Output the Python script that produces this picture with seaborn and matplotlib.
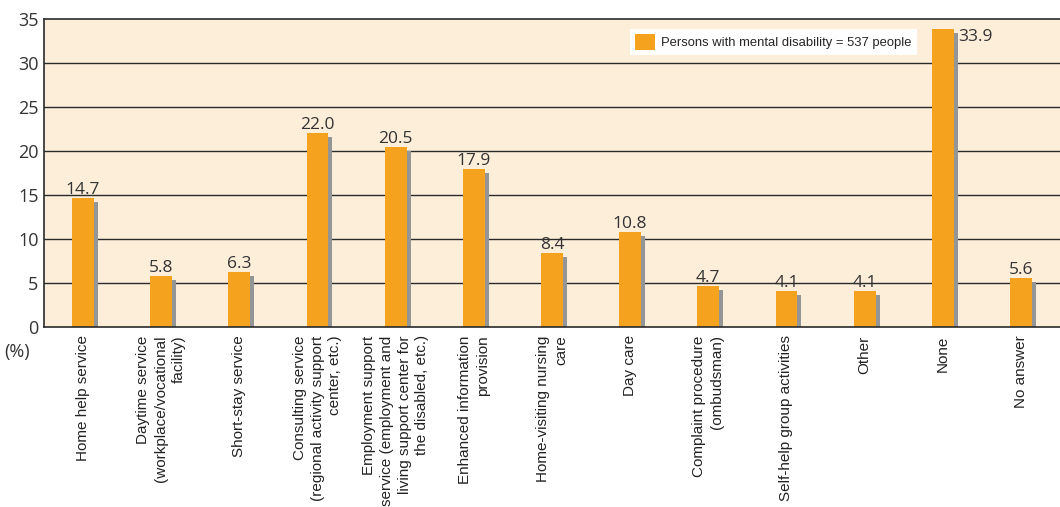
import matplotlib
matplotlib.use("Agg")
import matplotlib.pyplot as plt
import matplotlib.transforms as mtransforms
from matplotlib.patches import Patch
import numpy as np
import pandas as pd
import seaborn as sns

categories = [
    "Home help service",
    "Daytime service\n(workplace/vocational\nfacility)",
    "Short-stay service",
    "Consulting service\n(regional activity support\ncenter, etc.)",
    "Employment support\nservice (employment and\nliving support center for\nthe disabled, etc.)",
    "Enhanced information\nprovision",
    "Home-visiting nursing\ncare",
    "Day care",
    "Complaint procedure\n(ombudsman)",
    "Self-help group activities",
    "Other",
    "None",
    "No answer",
]
values = [14.7, 5.8, 6.3, 22.0, 20.5, 17.9, 8.4, 10.8, 4.7, 4.1, 4.1, 33.9, 5.6]
legend_label = "Persons with mental disability = 537 people"
y_ticks = [0, 5, 10, 15, 20, 25, 30, 35]

orange = "#F5A31E"
shadow = "#949597"
bg = "#FDEEDA"
num_font = "Open Sans"
txt_font = "Liberation Sans"

df = pd.DataFrame({"cat": categories, "val": values})

sns.set_style("white")
fig = plt.figure(figsize=(10.6, 5.07), dpi=100)
ax = fig.add_axes([44 / 1060, 1 - 327 / 507, 1016 / 1060, 308 / 507])
ax.set_facecolor(bg)

# shadow bars, shifted a few pixels right and down
sns.barplot(data=df, x="cat", y="val", color=shadow, width=0.28,
            saturation=1, linewidth=0, ax=ax, zorder=2)
off = mtransforms.ScaledTranslation(4 / 100, -4 / 100, fig.dpi_scale_trans)
for p in ax.patches:
    p.set_transform(ax.transData + off)

sns.barplot(data=df, x="cat", y="val", color=orange, width=0.28,
            saturation=1, linewidth=0, ax=ax, zorder=3)

# value labels
for i, v in enumerate(values):
    if v == max(values):
        ax.annotate(f"{v:.1f}", (i + 0.14, v), xytext=(3, 0), textcoords="offset points",
                    ha="left", va="top", fontsize=12.5, color="#333333", family=num_font)
    else:
        ax.annotate(f"{v:.1f}", (i, v), xytext=(0, 0), textcoords="offset points",
                    ha="center", va="bottom", fontsize=12.5, color="#333333", family=num_font)

ax.set_ylim(0, 35)
ax.set_xlim(-0.5, len(categories) - 0.5)
ax.set_yticks(y_ticks)
ax.set_yticklabels([str(t) for t in y_ticks], fontsize=13, color="#333333", family=num_font)
ax.tick_params(axis="y", length=0, pad=4)
ax.tick_params(axis="x", length=0, pad=6)
ax.set_xticks(range(len(categories)))
ax.set_xticklabels(categories, rotation=90, ha="center", va="top", multialignment="right",
                   fontsize=11, family=txt_font, color="#222222", linespacing=1.35)
ax.set_xlabel("")
ax.set_ylabel("")

for y in y_ticks[1:-1]:
    ax.axhline(y, color="#2a2a2a", lw=1.0, zorder=1)

ax.spines["right"].set_visible(False)
for s in ["left", "bottom", "top"]:
    ax.spines[s].set_color("#2a2a2a")
    ax.spines[s].set_linewidth(1.2)
    ax.spines[s].set_zorder(4)

fig.text(4 / 1060, 1 - 352 / 507, "(%)", fontsize=13, color="#333333",
         family=num_font, va="center", ha="left")

handle = Patch(facecolor=orange, edgecolor="none")
leg = ax.legend([handle], [legend_label], loc="upper left",
                bbox_to_anchor=((630 - 44) / 1016, (327 - 29) / 308),
                frameon=True, fancybox=False, framealpha=1, edgecolor="none",
                prop={"family": txt_font, "size": 9.4}, handlelength=1.5,
                handleheight=1.5, borderpad=0.4, handletextpad=0.5, borderaxespad=0)
leg.get_frame().set_facecolor("white")
leg.set_zorder(5)

fig.savefig("out.png", dpi=100)
